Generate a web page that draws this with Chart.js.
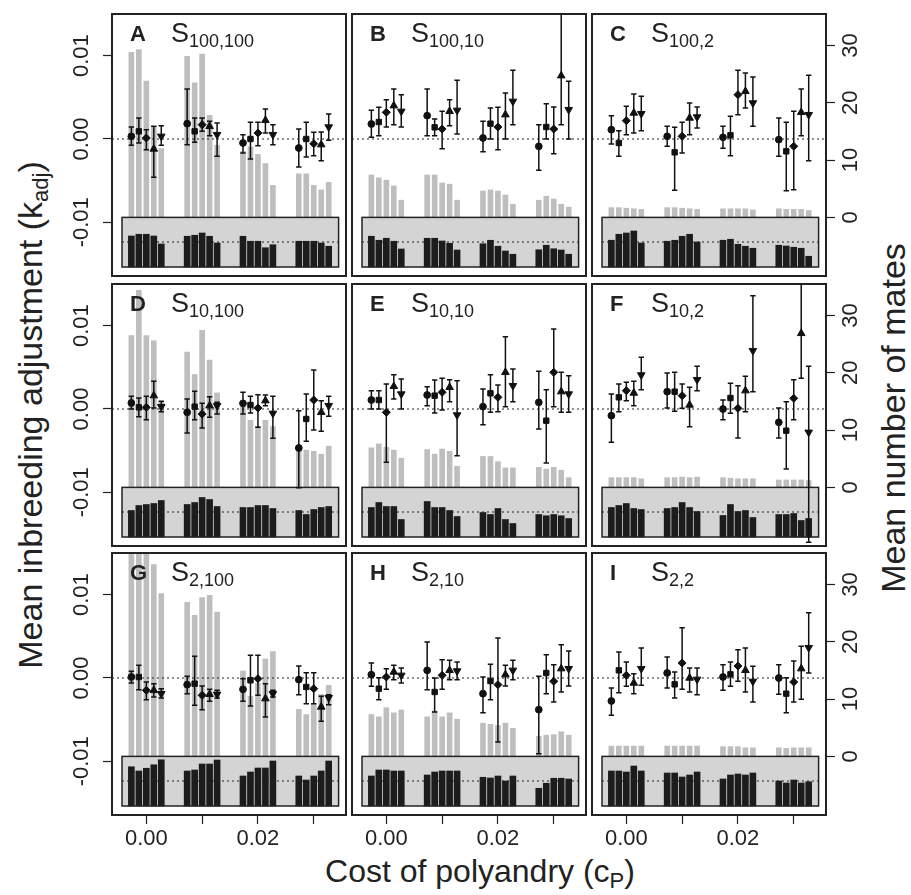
<!DOCTYPE html>
<html>
<head>
<meta charset="utf-8">
<script src="https://cdn.jsdelivr.net/npm/chart.js@4.4.1/dist/chart.umd.min.js"></script>
<style>
html, body { margin: 0; padding: 0; background: #fff; }
#fig { position: relative; width: 911px; height: 895px; overflow: hidden;
       font-family: 'Liberation Sans', Arial, sans-serif; color: #222; }
#fig canvas { position: absolute; }
.plet { position: absolute; font-weight: bold; font-size: 22px; line-height: 1; }
.pname { position: absolute; font-size: 27px; line-height: 1; white-space: nowrap; }
.pname sub { font-size: 18px; vertical-align: -5px; line-height: 0; }
.atitle { position: absolute; font-size: 34px; line-height: 1; white-space: nowrap; }
.atitle sub { font-size: 22px; vertical-align: -6px; line-height: 0; }
#tBottom { font-size: 32px; }
</style>
</head>
<body>
<div id="fig">
  <div class="atitle" style="left:30px;top:415px;transform:translate(-50%,-50%) rotate(-90deg);">Mean inbreeding adjustment (k<sub>adj</sub>)</div>
  <div class="atitle" style="left:893px;top:418px;transform:translate(-50%,-50%) rotate(-90deg);">Mean number of mates</div>
  <div class="atitle" id="tBottom" style="left:480px;top:871px;transform:translate(-50%,-50%);">Cost of polyandry (c<sub>P</sub>)</div>
</div>
<script>
// x groups and tick labels
const costs = [0, 0.01, 0.02, 0.03];
const costLabels = ['0.00', '', '0.02', ''];
const kTicks = [-0.01, 0, 0.01];
const mateTicks = [0, 10, 20, 30];
const letters = ['A', 'B', 'C', 'D', 'E', 'F', 'G', 'H', 'I'];
const sRow = ['100', '10', '2'];
const sCol = ['100', '10', '2'];

// k_adj arrays are in units of 0.001; order = cost group, then circle/square/diamond/up/down
const KU = 1e-3;

const meanA = [0.32,0.92,0.12,-1.2,0.32, 1.84,0.92,1.72,1.52,0.52, -0.48,0,0.72,2.24,0.52, -1.08,0,-0.56,-0.68,1.44];
const hiA = [1.44,2.52,1.12,1.52,1.6, 6.0,2.52,2.52,2.12,1.92, 0.52,2.0,2.0,3.6,1.72, 1.2,2.0,0.8,0.84,3.0];
const loA = [-0.76,-0.48,-1.28,-4.6,-0.76, -0.68,-0.4,0.92,0.4,-2.08, -1.68,-2.4,-0.8,0.72,-0.68, -3.36,-2.16,-2.0,-2.6,-0.16];
const matesA = [28.8,29.3,23.8,15.8,12.0, 28.1,23.5,28.5,17.8,12.6, 11.5,12.3,11.0,9.4,5.6, 7.6,7.6,5.6,4.8,6.1];
const insetA = [1.24,1.31,1.31,1.24,0.92, 1.23,1.27,1.36,1.23,0.96, 1.23,1.03,1.03,0.77,0.89, 1.03,1.03,1.03,0.96,0.83];

const meanB = [1.8,2.04,3.2,4.0,3.32, 2.8,1.4,1.2,3.32,3.44, 0.12,1.84,1.44,2.92,4.52, -0.88,1.44,1.2,7.6,3.52];
const hiB = [3.44,3.8,4.72,6.0,5.32, 6.0,2.4,3.32,4.72,7.04, 2.12,3.72,3.8,5.52,8.24, 1.72,4.24,3.84,18.4,6.92];
const loB = [0.2,0.4,1.44,1.72,1.44, 0.4,0.4,-1.16,1.6,0.6, -1.52,0,-1.28,0,1.72, -3.76,0,-1.76,1.72,0];
const matesB = [7.4,6.9,6.5,5.5,3.0, 7.4,7.4,6.0,5.8,3.0, 4.6,4.8,4.6,3.9,2.3, 3.0,3.7,3.2,2.3,1.8];
const insetB = [1.23,1.07,1.15,1.03,0.72, 1.15,1.15,1.04,0.95,0.68, 0.93,1.07,0.83,0.64,0.51, 0.69,0.87,0.73,0.68,0.51];

const meanC = [1.12,-0.48,2.2,3.12,3.04, 0.32,-1.6,0.32,2.52,2.64, 0.2,0.44,5.32,5.72,4.32, -0.08,-1.48,-0.88,3.2,2.92];
const hiC = [2.8,1.0,3.92,5.4,5.12, 1.52,1.4,2.0,4.32,3.84, 1.52,2.72,8.24,7.92,7.44, 2.52,2.0,3.32,6.0,7.64];
const loC = [-0.6,-2.08,0.52,0.72,1.0, -0.88,-6.16,-1.68,0.52,1.32, -1.12,-2.0,2.92,3.72,1.52, -2.08,-6.2,-6.08,0.4,-2.6];
const matesC = [1.7,1.7,1.6,1.5,1.4, 1.7,1.7,1.6,1.5,1.4, 1.5,1.5,1.5,1.5,1.3, 1.5,1.4,1.4,1.4,1.2];
const insetC = [1.07,1.31,1.36,1.44,0.96, 1.03,1.07,1.23,1.31,1.0, 1.07,1.11,0.91,0.83,0.75, 0.87,0.84,0.79,0.75,0.43];

const meanD = [0.72,0.2,0.2,1.6,0.28, -0.4,0.28,-0.6,0.4,0.4, 0.68,0.48,0.12,1.0,-0.52, -4.68,-1.2,1.08,-0.4,0.4];
const hiD = [1.52,1.32,1.52,3.32,0.92, 1.2,2.12,0.68,1.48,0.8, 2.0,1.52,1.72,1.68,1.52, -0.2,1.8,4.68,1.0,1.52];
const loD = [0,-0.92,-1.28,0.12,-0.32, -2.88,-1.28,-2.28,-1.0,-0.6, -0.6,-0.48,-2.2,0.4,-3.52, -9.44,-3.88,-2.52,-2.68,-0.88];
const matesD = [26.5,34.4,26.5,25.6,14.9, 23.6,19.7,27.4,22.2,16.5, 14.3,11.7,10.6,11.7,10.6, 7.3,6.5,6.3,5.8,7.2];
const insetD = [1.06,1.26,1.30,1.34,1.46, 1.30,1.38,1.58,1.50,1.22, 1.18,1.18,1.26,1.26,1.14, 1.06,0.90,1.10,1.18,1.22];

const meanE = [1.08,1.08,-0.4,2.72,1.8, 1.68,1.6,2.0,2.6,-0.72, 0.28,1.88,1.4,4.4,2.8, 0.8,-1.4,4.4,2.08,1.8];
const hiE = [2.2,2.2,3.0,4.12,3.6, 2.68,3.48,3.68,3.52,3.4, 2.4,4.12,2.88,8.68,4.8, 4.52,2.32,9.6,4.4,4.0];
const loE = [0,0,-6.4,1.2,0, 0.4,-0.48,-0.12,0.88,-5.6, -1.88,-0.4,-0.32,0.28,0.88, -2.4,-6.48,0.28,-0.4,-0.4];
const matesE = [6.9,7.6,7.0,6.5,5.1, 6.6,5.8,6.7,6.3,3.7, 5.4,5.4,4.5,3.4,3.4, 3.5,3.2,3.5,3.0,1.7];
const insetE = [1.18,1.38,1.22,1.22,0.70, 1.42,1.18,1.18,1.06,0.82, 0.98,0.90,1.14,0.70,0.54, 0.90,0.85,0.90,0.85,0.74];

const meanF = [-0.8,1.4,2.2,1.92,4.08, 2.08,2.08,1.6,0.48,3.52, 0,1.32,0.08,2.2,7.0, -1.6,-2.6,1.28,9.08,-2.8];
const hiF = [1.8,3.0,3.2,3.32,6.2, 4.32,4.4,3.0,2.6,5.12, 1.08,3.08,2.8,3.92,13.6, 0.12,0.88,3.52,17.2,5.12];
const loF = [-4.0,-0.32,1.0,0.4,2.32, 0.12,-0.28,0.08,-2.12,2.2, -1.28,-0.52,-3.48,-0.32,2.08, -3.48,-7.2,-1.28,3.68,-16.0];
const matesF = [1.7,1.7,1.7,1.7,1.5, 1.7,1.7,1.8,1.7,1.8, 1.7,1.6,1.5,1.5,1.5, 1.3,1.3,1.3,1.3,1.2];
const insetF = [1.18,1.26,1.34,1.14,1.10, 1.14,1.18,1.38,1.18,1.02, 0.86,1.30,1.02,1.06,0.78, 0.90,0.90,0.94,0.66,0.74];

const meanG = [0.12,0.12,-1.48,-1.48,-1.88, -0.8,-0.68,-2.08,-1.96,-1.96, -1.36,-0.28,-0.08,-2.48,-1.88, -0.2,-1.08,-1.28,-3.48,-2.36];
const hiG = [0.8,1.52,-0.48,-0.68,-1.28, 0.2,2.6,-0.96,-1.36,-1.48, -0.08,2.72,2.72,-0.68,-1.48, 1.44,0.64,0.64,-2.2,-2.0];
const loG = [-0.6,-1.4,-2.6,-2.28,-2.4, -1.88,-3.28,-3.8,-2.8,-2.4, -2.8,-3.36,-2.08,-4.68,-2.28, -2.0,-3.08,-3.08,-5.2,-3.2];
const matesG = [38,36,35.5,33.5,28.4, 26.9,24.6,27.7,28.1,25.2, 14.9,10.5,12.8,17.0,18.3, 8.2,7.3,9.1,10.8,12.4];
const insetG = [1.57,1.40,1.51,1.65,1.85, 1.40,1.44,1.68,1.68,1.84, 1.20,1.36,1.52,1.52,1.80, 1.20,1.04,1.20,1.40,1.80];

const meanH = [0.4,-1.28,0.12,0.72,0.32, 0.92,-1.68,0.32,0.92,0.84, -1.88,-0.36,-0.8,0.4,0.92, -3.8,0.6,-0.4,1.12,1.12];
const hiH = [1.8,0.04,1.12,1.52,1.2, 4.32,0,2.2,2.12,1.92, 0.12,1.64,4.8,1.52,2.12, 0.2,2.8,1.6,4.0,3.24];
const loH = [-1.0,-2.6,-1.36,-0.2,-0.6, -1.4,-4.08,-1.36,-0.2,-0.2, -4.16,-2.6,-7.68,-0.96,-0.2, -9.08,-1.88,-2.88,-1.68,-0.96];
const matesH = [7.3,6.9,8.5,7.6,8.1, 6.9,7.9,6.9,7.6,6.5, 5.8,5.6,5.4,5.8,4.9, 3.5,3.7,3.8,4.3,3.7];
const insetH = [1.20,1.44,1.44,1.40,1.40, 1.24,1.36,1.40,1.40,1.40, 1.15,1.12,1.20,1.00,1.20, 0.71,0.91,1.11,1.11,1.08];

const meanI = [-2.76,0.92,0.32,-0.6,1.12, 0.6,-0.76,1.8,0,-0.16, 0.12,0.44,1.44,0.92,-0.4, 0,-1.88,-0.48,1.12,3.64];
const hiI = [-1.2,3.12,1.92,0.52,3.6, 2.52,0.72,6.04,1.2,1.2, 1.6,1.92,3.4,3.6,1.4, 1.6,0.04,2.04,3.8,7.84];
const loI = [-4.48,-1.76,-1.0,-1.88,-0.88, -1.2,-2.4,-1.36,-1.68,-2.0, -1.48,-1.0,-0.4,-1.68,-2.88, -1.96,-4.16,-2.88,-2.56,0.6];
const matesI = [1.8,1.8,1.8,1.8,1.8, 1.8,1.8,1.8,1.8,1.8, 1.7,1.7,1.7,1.5,1.5, 1.5,1.4,1.5,1.5,1.5];
const insetI = [1.40,1.40,1.36,1.60,1.40, 1.32,1.32,1.16,1.24,1.36, 1.08,1.24,1.28,1.24,1.32, 1.00,0.92,1.04,0.92,0.97];

const panels = [
  { mean: meanA, lo: loA, hi: hiA, mates: matesA, inset: insetA },
  { mean: meanB, lo: loB, hi: hiB, mates: matesB, inset: insetB },
  { mean: meanC, lo: loC, hi: hiC, mates: matesC, inset: insetC },
  { mean: meanD, lo: loD, hi: hiD, mates: matesD, inset: insetD },
  { mean: meanE, lo: loE, hi: hiE, mates: matesE, inset: insetE },
  { mean: meanF, lo: loF, hi: hiF, mates: matesF, inset: insetF },
  { mean: meanG, lo: loG, hi: hiG, mates: matesG, inset: insetG },
  { mean: meanH, lo: loH, hi: hiH, mates: matesH, inset: insetH },
  { mean: meanI, lo: loI, hi: hiI, mates: matesI, inset: insetI }
];

// marker per series (circle, square, diamond, up, down)
const shapes = [
  { style: 'circle', rot: 0, r: 3.4 },
  { style: 'rect', rot: 0, r: 3.8 },
  { style: 'rectRot', rot: 0, r: 4 },
  { style: 'triangle', rot: 0, r: 4.4 },
  { style: 'triangle', rot: 180, r: 4.4 }
];
const DODGE = 0.00134;

// panel geometry
const BOX_W = 234, BOX_H = 262;
const colLeft = [112, 352, 592];
const rowTop = [14, 284, 553];
const PAD_L = 60, PAD_R = 50, PAD_T = 20, PAD_B = 44;

// axis ranges so that ticks land where they do in the figure
const XMIN = -0.00615, XMAX = 0.03578;
const KMIN = -0.016447, KMAX = 0.015006;
const MMIN = -10.23, MMAX = 35.5;
const INMIN = -0.36, INMAX = 10.12;

Chart.defaults.font.family = "'Liberation Sans', Arial, sans-serif";
Chart.defaults.color = '#222';

const decor = {
  id: 'decor',
  beforeDatasetsDraw(chart) {
    const { ctx, chartArea: a, scales } = chart;
    const top = scales.yM.getPixelForValue(0);
    const bot = scales.yIn.getPixelForValue(0);
    ctx.save();
    ctx.fillStyle = '#d4d4d4';
    ctx.fillRect(a.left + 10, top, a.width - 17.4, bot - top);
    ctx.restore();
  },
  afterDatasetsDraw(chart) {
    const { ctx, chartArea: a, scales } = chart;
    const top = scales.yM.getPixelForValue(0);
    const bot = scales.yIn.getPixelForValue(0);
    const y0 = scales.y.getPixelForValue(0);
    const yr = scales.yIn.getPixelForValue(1);
    ctx.save();
    ctx.strokeStyle = '#222';
    ctx.lineWidth = 1.2;
    ctx.setLineDash([2, 3]);
    ctx.beginPath();
    ctx.moveTo(a.left, y0); ctx.lineTo(a.right, y0);
    ctx.moveTo(a.left + 10, yr); ctx.lineTo(a.right - 7.4, yr);
    ctx.stroke();
    ctx.setLineDash([]);
    ctx.lineWidth = 1.5;
    ctx.strokeRect(a.left + 10, top, a.width - 17.4, bot - top);
    ctx.lineWidth = 2;
    ctx.strokeRect(a.left, a.top, a.width, a.height);
    ctx.restore();
  }
};

const errorBars = {
  id: 'errorBars',
  afterDatasetsDraw(chart) {
    const { ctx, chartArea: a, scales: { y } } = chart;
    ctx.save();
    ctx.beginPath();
    ctx.rect(a.left, a.top, a.width, a.height);
    ctx.clip();
    ctx.strokeStyle = '#111';
    ctx.lineWidth = 1.5;
    chart.data.datasets.forEach((ds, i) => {
      if (!ds.lo) return;
      chart.getDatasetMeta(i).data.forEach((pt, j) => {
        const yl = y.getPixelForValue(ds.lo[j]);
        const yh = y.getPixelForValue(ds.hi[j]);
        ctx.beginPath();
        ctx.moveTo(pt.x, yl); ctx.lineTo(pt.x, yh);
        ctx.moveTo(pt.x - 2.7, yl); ctx.lineTo(pt.x + 2.7, yl);
        ctx.moveTo(pt.x - 2.7, yh); ctx.lineTo(pt.x + 2.7, yh);
        ctx.stroke();
      });
    });
    ctx.restore();
  }
};

const fig = document.getElementById('fig');
const tickGrid = { drawOnChartArea: false, offset: false, color: '#222', tickLength: 9, tickWidth: 1.2 };

panels.forEach((p, k) => {
  const r = Math.floor(k / 3), c = k % 3;
  const L = colLeft[c], T = rowTop[r];
  const cv = document.createElement('canvas');
  cv.width = PAD_L + BOX_W + PAD_R;
  cv.height = PAD_T + BOX_H + PAD_B;
  cv.style.left = (L - PAD_L) + 'px';
  cv.style.top = (T - PAD_T) + 'px';
  fig.appendChild(cv);

  const lab = document.createElement('div');
  lab.className = 'plet';
  lab.style.left = (L + 18) + 'px';
  lab.style.top = (T + 9) + 'px';
  lab.textContent = letters[k];
  fig.appendChild(lab);
  const nm = document.createElement('div');
  nm.className = 'pname';
  nm.style.left = (L + 59) + 'px';
  nm.style.top = (T + 6) + 'px';
  nm.innerHTML = 'S<sub>' + sRow[r] + ',' + sCol[c] + '</sub>';
  fig.appendChild(nm);

  const xAt = i => costs[Math.floor(i / 5)] + (i % 5 - 2) * DODGE;
  const datasets = shapes.map((sh, s) => {
    const idx = costs.map((_, g) => g * 5 + s);
    return {
      type: 'line', showLine: false, order: 0, yAxisID: 'y',
      data: idx.map(i => ({ x: xAt(i), y: p.mean[i] * KU })),
      lo: idx.map(i => p.lo[i] * KU),
      hi: idx.map(i => p.hi[i] * KU),
      pointStyle: sh.style, pointRotation: sh.rot, pointRadius: sh.r,
      backgroundColor: '#111', borderColor: '#111', borderWidth: 1
    };
  });
  datasets.push({
    type: 'bar', order: 2, yAxisID: 'yIn', grouped: false, barThickness: 6,
    data: p.inset.map((v, i) => ({ x: xAt(i), y: v })),
    backgroundColor: '#1c1c1c'
  });
  datasets.push({
    type: 'bar', order: 3, yAxisID: 'yM', grouped: false, barThickness: 5,
    data: p.mates.map((v, i) => ({ x: xAt(i), y: v })),
    backgroundColor: '#bebebe'
  });

  const showX = r === 2, showY = c === 0, showM = c === 2;
  new Chart(cv, {
    type: 'bar',
    data: { datasets },
    options: {
      responsive: false,
      animation: false,
      events: [],
      layout: { padding: { left: showY ? 0 : PAD_L, right: showM ? 0 : PAD_R, top: PAD_T, bottom: showX ? 0 : PAD_B } },
      plugins: { legend: { display: false }, tooltip: { enabled: false } },
      scales: {
        x: {
          type: 'linear', offset: false, min: XMIN, max: XMAX, display: showX,
          afterBuildTicks: s => { s.ticks = costs.map(v => ({ value: v })); },
          afterFit: s => { if (showX) { s.height = PAD_B; s.paddingLeft = 0; s.paddingRight = 0; } },
          border: { display: false }, grid: tickGrid,
          ticks: { autoSkip: false, maxRotation: 0, padding: 2, font: { size: 22 }, color: '#222',
                   callback: (v, i) => costLabels[i] }
        },
        y: {
          type: 'linear', position: 'left', min: KMIN, max: KMAX, display: showY,
          afterBuildTicks: s => { s.ticks = kTicks.map(v => ({ value: v })); },
          afterFit: s => { if (showY) { s.width = PAD_L; s.paddingTop = 0; s.paddingBottom = 0; } },
          border: { display: false }, grid: tickGrid,
          ticks: { minRotation: 90, maxRotation: 90, crossAlign: 'center', padding: -4,
                   font: { size: 22 }, color: '#222', callback: v => v.toFixed(2) }
        },
        yM: {
          type: 'linear', position: 'right', min: MMIN, max: MMAX, display: showM,
          afterBuildTicks: s => { s.ticks = mateTicks.map(v => ({ value: v })); },
          afterFit: s => { if (showM) { s.width = PAD_R; s.paddingTop = 0; s.paddingBottom = 0; } },
          border: { display: false }, grid: tickGrid,
          ticks: { minRotation: 90, maxRotation: 90, crossAlign: 'center', padding: 4,
                   font: { size: 22 }, color: '#222', callback: v => String(v) }
        },
        yIn: { type: 'linear', position: 'left', min: INMIN, max: INMAX, display: false }
      }
    },
    plugins: [decor, errorBars]
  });
});
</script>
</body>
</html>
